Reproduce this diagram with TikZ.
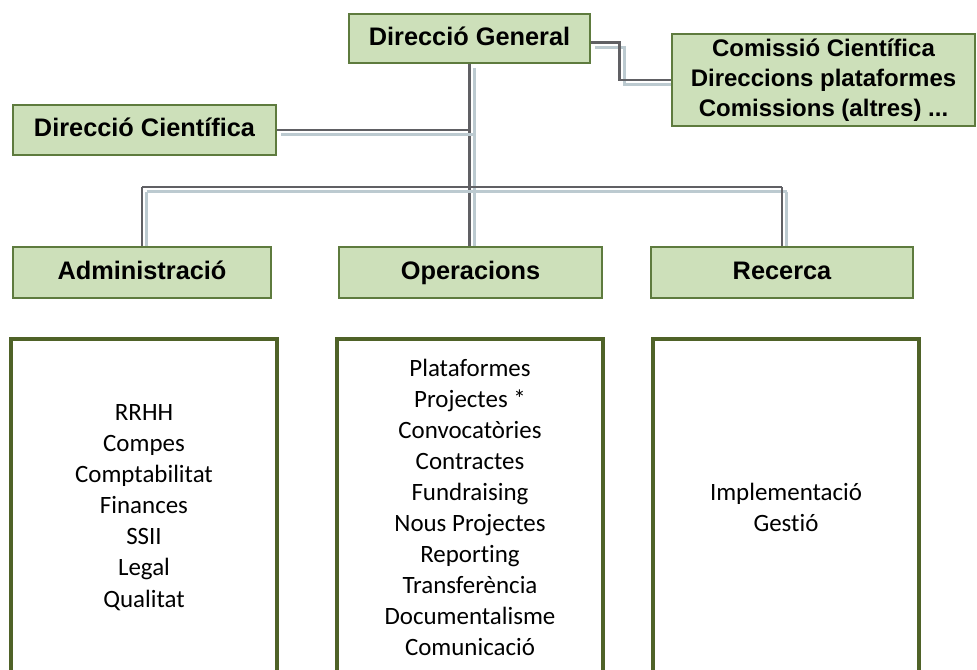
\documentclass[tikz,border=0pt]{standalone}
\usepackage{fontspec}
\setmainfont{Carlito}[RawFeature=-liga]
\newfontfamily\headfont{Liberation Sans}
\usetikzlibrary{backgrounds}

\definecolor{boxgreen}{HTML}{CDE0BA}
\definecolor{edgegreen}{HTML}{5E7B3E}
\definecolor{listgreen}{HTML}{4F6228}
\definecolor{linegray}{HTML}{606064}
\definecolor{shadowgray}{HTML}{BCCAD0}

\begin{document}
\begin{tikzpicture}[x=0.75pt,y=-0.75pt,
  head/.style={draw=edgegreen, line width=1.1pt, fill=boxgreen, inner sep=0pt,
    align=center, font=\headfont\bfseries\fontsize{19}{22}\selectfont},
  oneline/.style={text height=14pt, text depth=4pt},
  list/.style={draw=listgreen, line width=2.4pt, inner sep=0pt, align=center,
    minimum width=199.5pt, minimum height=252.75pt,
    font=\fontsize{18.7}{23.3}\selectfont},
  link/.style={draw=linegray, line width=2.2pt,
    preaction={draw=shadowgray, line width=2.2pt,
      transform canvas={shift={(3.5pt,-3.5pt)}}}}]

\useasboundingbox (0,0) rectangle (977,669);

% top level
\node[head, oneline, minimum width=180.75pt, minimum height=36.75pt] (dg) at (469.5,38.5) {Direcció General};
\node[head, minimum width=227.25pt, minimum height=69pt,
  font=\headfont\bfseries\fontsize{18}{22.5}\selectfont] (com) at (823.5,80)
  {Comissió Científica\\Direccions plataformes\\Comissions (altres) ...};
\node[head, oneline, minimum width=197.25pt, minimum height=37.5pt] (dc) at (144.5,130) {Direcció Científica};

% areas
\node[head, oneline, minimum width=193.5pt, minimum height=38.25pt] (adm) at (142,272.5) {Administració};
\node[head, oneline, minimum width=197.25pt, minimum height=38.25pt] (ope) at (470.5,272.5) {Operacions};
\node[head, oneline, minimum width=196.5pt, minimum height=38.25pt] (rec) at (782,272.5) {Recerca};

% tasks
\node[list] (admlist) at (144,507.5) {RRHH\\Compes\\Comptabilitat\\Finances\\SSII\\Legal\\Qualitat};
\node[list] (opelist) at (470,507.5) {Plataformes\\Projectes *\\Convocatòries\\Contractes\\Fundraising\\Nous Projectes\\Reporting\\Transferència\\Documentalisme\\Comunicació};
\node[list] (reclist) at (786,507.5) {Implementació\\Gestió};

\coordinate (bus) at (472,187);

\begin{scope}[on background layer]
\draw[link] (dg.south) -- (dg.south |- ope.north);
\draw[link] (dc.east) -- (dc.east -| dg.south);
\draw[link] (dg.east) ++(0,4) -- ++(29,0) |- (com.west);
\draw[link] (adm.north |- bus) -- (rec.north |- bus);
\draw[link] (adm.north |- bus) -- (adm.north);
\draw[link] (rec.north |- bus) -- (rec.north);
\end{scope}

\end{tikzpicture}
\end{document}
